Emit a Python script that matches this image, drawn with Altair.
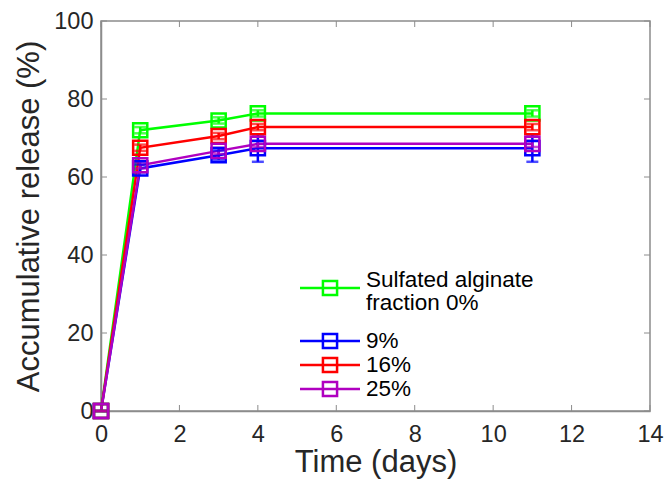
import altair as alt
import pandas as pd

# ---- data ----
time_days = [0, 1, 3, 4, 11]
series = ["0%", "9%", "16%", "25%"]
release_0 = [0, 72.0, 74.5, 76.3, 76.3]
release_9 = [0, 62.2, 65.6, 67.4, 67.4]
release_16 = [0, 67.5, 70.5, 72.8, 72.8]
release_25 = [0, 63.0, 66.7, 68.5, 68.5]
err_0 = [0, 0.8, 0.8, 0.8, 0.8]
err_9 = [0, 1.0, 1.2, 3.5, 3.5]
err_16 = [0, 0.8, 0.8, 0.8, 0.8]
err_25 = [0, 0.8, 0.8, 0.8, 0.8]
colors = ["#00ff00", "#0000ff", "#ff0000", "#b000c0"]
legend_labels = [["Sulfated alginate", "fraction 0%"], ["9%"], ["16%"], ["25%"]]
x_ticks = [0, 2, 4, 6, 8, 10, 12, 14]
y_ticks = [0, 20, 40, 60, 80, 100]

rows = []
for s, vals, errs in zip(series, [release_0, release_9, release_16, release_25],
                         [err_0, err_9, err_16, err_25]):
    for t, v, e in zip(time_days, vals, errs):
        rows.append({"time": t, "release": v, "lo": v - e, "hi": v + e, "series": s})
df = pd.DataFrame(rows)

FONT = "Liberation Sans"
AX = "#8c8c8c"
W, H = 549, 390
xs = alt.Scale(domain=[0, 14], nice=False)
ys = alt.Scale(domain=[0, 100], nice=False)
cscale = alt.Scale(domain=series, range=colors)
col = alt.Color("series:N", scale=cscale, sort=series, legend=None)

base = alt.Chart(df)
x_enc = alt.X("time:Q", scale=xs,
              axis=alt.Axis(title="Time (days)", values=x_ticks, tickSize=0, grid=False,
                            labelFlush=False))
y_enc = alt.Y("release:Q", scale=ys,
              axis=alt.Axis(title="Accumulative release (%)", values=y_ticks, tickSize=0,
                            grid=False, labelFlush=False))

lines = base.mark_line(strokeWidth=2.5).encode(
    x=x_enc, y=y_enc, color=col, order=alt.Order("time:Q"))
err_rule = base.mark_rule(strokeWidth=2.5).encode(
    x=alt.X("time:Q", scale=xs), y=alt.Y("lo:Q", scale=ys), y2="hi:Q", color=col)
cap_lo = base.mark_tick(thickness=2.5, size=12, orient="horizontal").encode(
    x=alt.X("time:Q", scale=xs), y=alt.Y("lo:Q", scale=ys), color=col)
cap_hi = base.mark_tick(thickness=2.5, size=12, orient="horizontal").encode(
    x=alt.X("time:Q", scale=xs), y=alt.Y("hi:Q", scale=ys), color=col)
points = base.mark_point(shape="square", size=200, strokeWidth=2.5, filled=False, opacity=1).encode(
    x=alt.X("time:Q", scale=xs), y=alt.Y("release:Q", scale=ys), color=col)

# inside ticks (MATLAB box style)
xt = pd.DataFrame({"v": x_ticks})
yt = pd.DataFrame({"v": y_ticks})
xtick_b = alt.Chart(xt).mark_rule(color=AX, strokeWidth=1).encode(
    x=alt.X("v:Q", scale=xs), y=alt.value(H), y2=alt.value(H - 6))
xtick_t = alt.Chart(xt).mark_rule(color=AX, strokeWidth=1).encode(
    x=alt.X("v:Q", scale=xs), y=alt.value(0), y2=alt.value(6))
ytick_l = alt.Chart(yt).mark_rule(color=AX, strokeWidth=1).encode(
    y=alt.Y("v:Q", scale=ys), x=alt.value(0), x2=alt.value(6))
ytick_r = alt.Chart(yt).mark_rule(color=AX, strokeWidth=1).encode(
    y=alt.Y("v:Q", scale=ys), x=alt.value(W), x2=alt.value(W - 6))

# manual legend (layout in pixels inside the plot area)
sym_y = [267, 320, 344, 368]
leg_rows = []
txt_rows = []
for s, yy, labs in zip(series, sym_y, legend_labels):
    leg_rows.append({"series": s, "ly": yy})
    if len(labs) == 1:
        txt_rows.append({"series": s, "ly": yy, "txt": labs[0]})
    else:
        for k, t in enumerate(labs):
            txt_rows.append({"series": s, "ly": yy - 8 + 23 * k, "txt": t})
leg_df = pd.DataFrame(leg_rows)
txt_df = pd.DataFrame(txt_rows)

leg_line = alt.Chart(leg_df).mark_rule(strokeWidth=2.5).encode(
    x=alt.value(199), x2=alt.value(259), y=alt.Y("ly:Q", scale=None), color=col)
leg_pt = alt.Chart(leg_df).mark_point(shape="square", size=200, strokeWidth=2.5,
                                      filled=False, opacity=1).encode(
    x=alt.value(229), y=alt.Y("ly:Q", scale=None), color=col)
leg_txt = alt.Chart(txt_df).mark_text(align="left", baseline="middle", font=FONT,
                                      fontSize=22.5, color="#000000").encode(
    x=alt.value(265), y=alt.Y("ly:Q", scale=None), text="txt:N")

chart = alt.layer(
    xtick_b, xtick_t, ytick_l, ytick_r, lines, err_rule, cap_lo, cap_hi, points,
    leg_line, leg_pt, leg_txt
).properties(
    width=W, height=H,
    autosize=alt.AutoSizeParams(type="none"),
    padding={"left": 93, "top": 13, "right": 14, "bottom": 73},
).configure_view(
    stroke=AX, strokeWidth=1.5
).configure_axis(
    domainColor=AX, domainWidth=1.5,
    labelFont=FONT, labelFontSize=23.5, labelColor="#262626",
    titleFont=FONT, titleFontSize=31, titleColor="#262626", titleFontWeight="normal",
).configure_axisX(
    labelPadding=11, titlePadding=2
).configure_axisY(
    labelPadding=8, titlePadding=8
)

chart.save("out.html", embed_options={"renderer": "svg", "actions": False})
